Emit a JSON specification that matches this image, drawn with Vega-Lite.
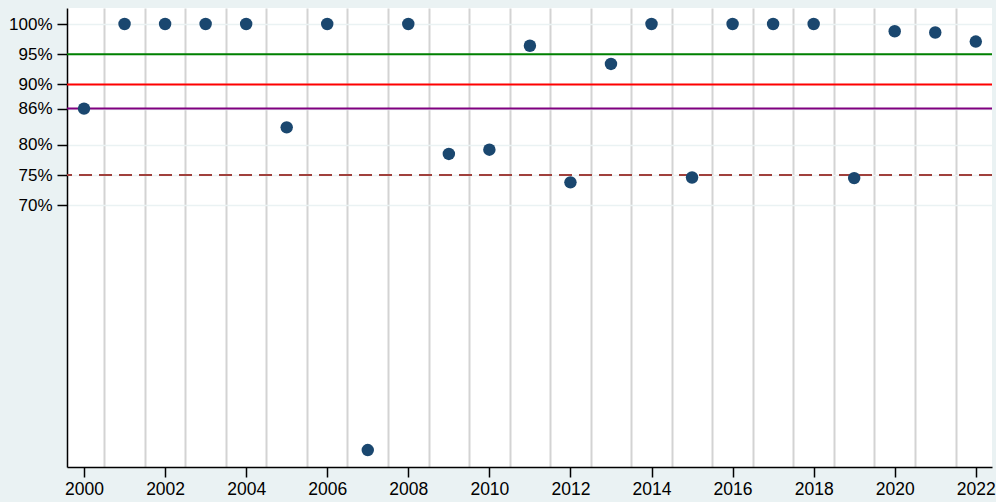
{
  "$schema": "https://vega.github.io/schema/vega-lite/v6.json",
  "width": 925,
  "height": 459,
  "autosize": "none",
  "padding": {"left": 67, "top": 8, "right": 4, "bottom": 35},
  "background": "#EAF2F3",
  "config": {
    "view": {"fill": "white", "stroke": null},
    "font": "Liberation Sans",
    "axis": {"labelFont": "Liberation Sans", "labelFontSize": 17, "labelColor": "#000000", "domainColor": "#000000", "tickColor": "#000000", "domainWidth": 1.5, "tickWidth": 1.5, "tickSize": 10}
  },
  "datasets": {
    "rates": [
      {"year": 2000, "rate": 86.0},
      {"year": 2001, "rate": 100},
      {"year": 2002, "rate": 100},
      {"year": 2003, "rate": 100},
      {"year": 2004, "rate": 100},
      {"year": 2005, "rate": 82.9},
      {"year": 2006, "rate": 100},
      {"year": 2007, "rate": 29.5},
      {"year": 2008, "rate": 100},
      {"year": 2009, "rate": 78.5},
      {"year": 2010, "rate": 79.2},
      {"year": 2011, "rate": 96.4},
      {"year": 2012, "rate": 73.8},
      {"year": 2013, "rate": 93.4},
      {"year": 2014, "rate": 100},
      {"year": 2015, "rate": 74.6},
      {"year": 2016, "rate": 100},
      {"year": 2017, "rate": 100},
      {"year": 2018, "rate": 100},
      {"year": 2019, "rate": 74.5},
      {"year": 2020, "rate": 98.8},
      {"year": 2021, "rate": 98.6},
      {"year": 2022, "rate": 97.1}
    ],
    "targets": [
      {"target": 95, "name": "95"},
      {"target": 90, "name": "90"},
      {"target": 86, "name": "86"},
      {"target": 75, "name": "75"}
    ]
  },
  "resolve": {"axis": {"x": "independent", "y": "independent"}},
  "layer": [
    {
      "data": {"name": "rates"},
      "mark": {"type": "point", "opacity": 0},
      "encoding": {
        "x": {"field": "year", "type": "quantitative", "scale": {"domain": [1999.58, 2022.4], "nice": false, "zero": false},
          "axis": {"title": null, "orient": "bottom", "values": [2000.5,2001.5,2002.5,2003.5,2004.5,2005.5,2006.5,2007.5,2008.5,2009.5,2010.5,2011.5,2012.5,2013.5,2014.5,2015.5,2016.5,2017.5,2018.5,2019.5,2020.5,2021.5], "labels": false, "ticks": false, "domain": false, "grid": true, "gridColor": "#D3D3D3", "gridWidth": 2}},
        "y": {"field": "rate", "type": "quantitative", "scale": {"domain": [26.7, 102.65], "nice": false, "zero": false},
          "axis": {"title": null, "orient": "left", "values": [70, 75, 80, 86, 90, 95, 100], "labelExpr": "datum.value + '%'", "grid": true, "gridColor": "#EAF2F3", "gridWidth": 1.5, "labelPadding": 5, "domain": true}}
      }
    },
    {
      "data": {"name": "targets"},
      "mark": {"type": "rule", "strokeWidth": 2},
      "encoding": {
        "y": {"field": "target", "type": "quantitative", "axis": null},
        "color": {"field": "name", "type": "nominal", "scale": {"domain": ["95", "90", "86", "75"], "range": ["#008000", "#FF0000", "#800080", "#A0403C"]}, "legend": null},
        "strokeDash": {"field": "name", "type": "nominal", "scale": {"domain": ["95", "90", "86", "75"], "range": [[1, 0], [1, 0], [1, 0], [13, 7]]}, "legend": null}
      }
    },
    {
      "data": {"name": "rates"},
      "mark": {"type": "circle", "size": 155, "color": "#1A476F", "opacity": 1},
      "encoding": {
        "x": {"field": "year", "type": "quantitative",
          "axis": {"title": null, "orient": "bottom", "values": [2000,2002,2004,2006,2008,2010,2012,2014,2016,2018,2020,2022], "format": "d", "grid": false, "labelPadding": 3, "labelFontSize": 17.5}},
        "y": {"field": "rate", "type": "quantitative", "axis": null}
      }
    }
  ]
}
